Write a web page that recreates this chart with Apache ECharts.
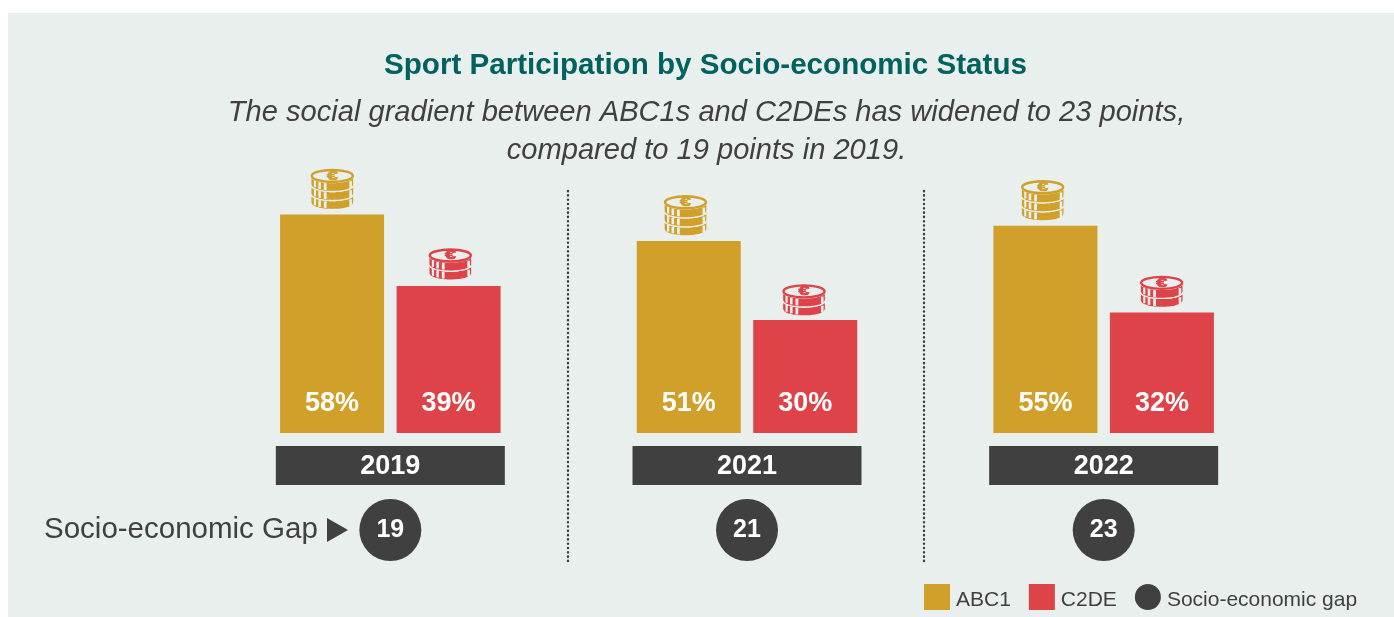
<!DOCTYPE html>
<html>
<head>
<meta charset="utf-8">
<style>html,body{margin:0;padding:0;background:#fff}#c{width:1394px;height:617px}</style>
<script src="https://cdn.jsdelivr.net/npm/echarts@6/dist/echarts.min.js"></script>
</head>
<body>
<div id="c"></div>
<script>
const years = ['2019', '2021', '2022'];
const abc1 = [58, 51, 55];
const c2de = [39, 30, 32];
const gap = [19, 21, 23];

const GOLD = '#d0a02a', RED = '#dd4349', DARK = '#404040', BG = '#e8efec', TEAL = '#00625f';
const FONT = '"Liberation Sans", Arial, sans-serif';

function coinRenderer(layers, offset, color, nudgeX, nudgeY) {
  return function (params, api) {
    const p = api.coord([api.value(0), api.value(1)]);
    const cx = p[0] + offset + nudgeX[params.dataIndex], rx = 21.5, ry = 6.6, h = 9;
    const bottom = p[1] - 5 + nudgeY[params.dataIndex];
    const topC = bottom - layers * h - ry;
    const kids = [];
    const arc = (x, c) => c + ry * Math.sqrt(Math.max(0, 1 - (x * x) / (rx * rx)));
    for (let k = layers - 1; k >= 0; k--) {
      const c = topC + k * h;
      const pts = [];
      for (let i = 0; i <= 32; i++) {
        const x = -rx + (2 * rx * i) / 32;
        pts.push([cx + x, arc(x, c + h)]);
      }
      for (let i = 32; i >= 0; i--) {
        const x = -rx + (2 * rx * i) / 32;
        pts.push([cx + x, arc(x, c)]);
      }
      kids.push({ type: 'polygon', shape: { points: pts }, style: { fill: color, stroke: BG, lineWidth: 1.3 } });
      [[-18.5, 2.2], [-14, 2.6], [-8.5, 2.8], [17, 2.6]].forEach(([dx, w]) => {
        const y0 = arc(dx, c) + 1.2, y1 = arc(dx, c + h) - 1;
        kids.push({ type: 'rect', shape: { x: cx + dx, y: y0, width: w, height: Math.max(1, y1 - y0) }, style: { fill: BG } });
      });
    }
    kids.push({ type: 'ellipse', shape: { cx: cx, cy: topC, rx: rx - 1, ry: ry - 0.6 }, style: { fill: BG, stroke: color, lineWidth: 2.4 } });
    kids.push({ type: 'text', x: cx, y: topC + 0.3, scaleX: 1.5, style: { x: 0, y: 0, text: '€', fill: color, font: 'bold 13px ' + FONT,
      stroke: color, lineWidth: 0.7, align: 'center', verticalAlign: 'middle' } });
    return { type: 'group', children: kids };
  };
}

const chart = echarts.init(document.getElementById('c'), null, { renderer: 'canvas' });
const sepLine = x => ({
  type: 'line', silent: true, z: 1,
  shape: { x1: x, y1: 191, x2: x, y2: 562 },
  style: { stroke: DARK, lineWidth: 2.4, lineDash: [0.2, 4.1], lineCap: 'round' }
});

chart.setOption({
  animation: false,
  backgroundColor: '#ffffff',
  textStyle: { fontFamily: FONT },
  title: [
    { text: 'Sport Participation by Socio-economic Status', left: 700.5, top: 45, textAlign: 'center',
      textStyle: { color: TEAL, fontFamily: FONT, fontWeight: 'bold', fontSize: 29.6, lineHeight: 32 } },
    { text: 'The social gradient between ABC1s and C2DEs has widened to 23 points,\ncompared to 19 points in 2019.',
      left: 701.5, top: 89, textAlign: 'center',
      textStyle: { color: DARK, fontFamily: FONT, fontStyle: 'italic', fontWeight: 'normal', fontSize: 29.1, lineHeight: 38 } }
  ],
  legend: {
    left: 924, top: 584, itemWidth: 26, itemHeight: 26, itemGap: 18, padding: 0,
    selectedMode: false,
    formatter: name => '{a|' + name + '}',
    textStyle: { color: DARK, fontFamily: FONT, fontSize: 21,
      rich: { a: { color: DARK, fontFamily: FONT, fontSize: 21, padding: [6, 0, 0, 1] } } },
    data: [
      { name: 'ABC1', icon: 'rect' },
      { name: 'C2DE', icon: 'rect' },
      { name: 'Socio-economic gap', icon: 'circle' }
    ]
  },
  grid: [
    { left: 212, width: 1070, top: 207, height: 226 },
    { left: 212, width: 1070, top: 499, height: 62 }
  ],
  xAxis: [
    { type: 'category', gridIndex: 0, data: years,
      axisLine: { show: false }, axisTick: { show: false },
      axisLabel: { margin: 13, width: 229, height: 39, lineHeight: 41, align: 'center', backgroundColor: DARK,
        color: '#fff', fontFamily: FONT, fontWeight: 'bold', fontSize: 27, interval: 0 } },
    { type: 'category', gridIndex: 1, data: years, show: false }
  ],
  yAxis: [
    { type: 'value', gridIndex: 0, min: 0, max: 60, show: false },
    { type: 'value', gridIndex: 1, min: -1, max: 1, show: false }
  ],
  series: [
    { name: 'ABC1', type: 'bar', data: abc1, barWidth: 104, barGap: '12%', itemStyle: { color: GOLD },
      label: { show: true, position: 'insideBottom', distance: 16, formatter: '{c}%', color: '#fff',
        fontFamily: FONT, fontWeight: 'bold', fontSize: 27 } },
    { name: 'C2DE', type: 'bar', data: c2de, barWidth: 104, itemStyle: { color: RED },
      label: { show: true, position: 'insideBottom', distance: 16, formatter: '{c}%', color: '#fff',
        fontFamily: FONT, fontWeight: 'bold', fontSize: 27 } },
    { name: 'Socio-economic gap', type: 'scatter', xAxisIndex: 1, yAxisIndex: 1, symbol: 'circle', symbolSize: 62,
      itemStyle: { color: DARK, opacity: 1 },
      data: gap.map((g, i) => ({ value: [i, 0], gap: g })),
      label: { show: true, position: 'inside', color: '#fff', fontFamily: FONT, fontWeight: 'bold', fontSize: 25,
        formatter: p => String(p.data.gap) } },
    { name: 'ABC1 coins', type: 'custom', silent: true, z: 3, data: abc1.map((v, i) => [i, v]),
      renderItem: coinRenderer(3, -58, GOLD, [0, -3.5, -3], [0, 0, 0]) },
    { name: 'C2DE coins', type: 'custom', silent: true, z: 3, data: c2de.map((v, i) => [i, v]),
      renderItem: coinRenderer(2, 58, RED, [2, -1, 0], [-1, 1, 0]) }
  ],
  graphic: [
    { type: 'rect', silent: true, z: -10, shape: { x: 8, y: 13, width: 1386, height: 604 }, style: { fill: BG } },
    sepLine(568), sepLine(924),
    { type: 'text', silent: true, style: { x: 44, y: 530, text: 'Socio-economic Gap', fill: DARK,
        font: '29.5px ' + FONT, verticalAlign: 'middle' } },
    { type: 'polygon', silent: true, shape: { points: [[327, 518], [348, 530], [327, 542]] }, style: { fill: DARK } }
  ]
});
</script>
</body>
</html>
